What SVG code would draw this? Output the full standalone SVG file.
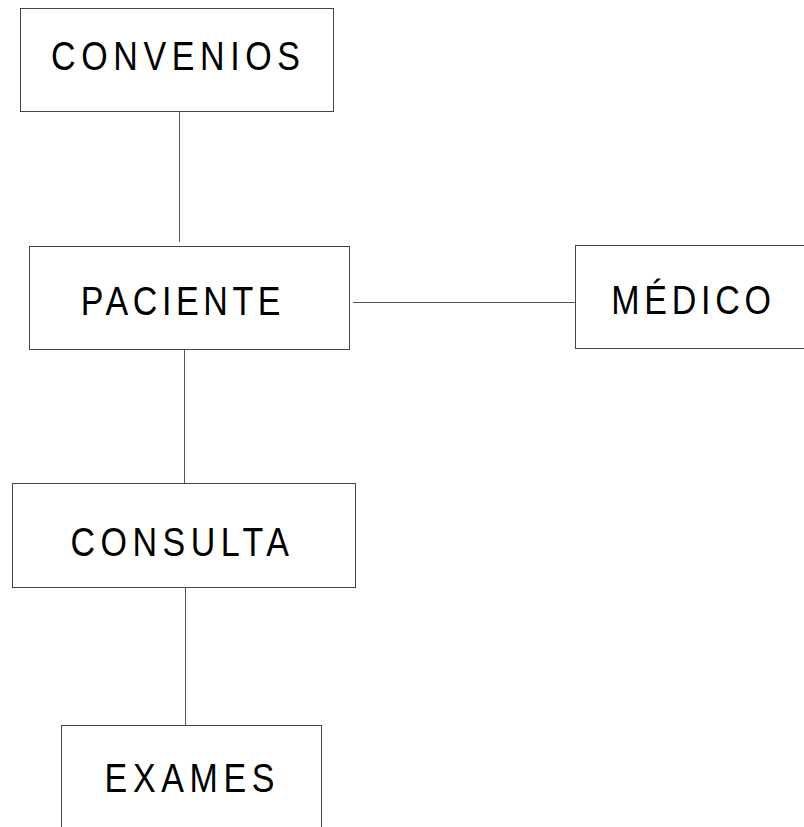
<svg xmlns="http://www.w3.org/2000/svg" width="804" height="827" viewBox="0 0 804 827">
<style>
.box{fill:#fff;stroke:#444;stroke-width:1}
.lbl{font-family:"Liberation Sans",Arial,sans-serif;font-size:40px;fill:#000}
.conn line{stroke:#555;stroke-width:1}
</style>
<rect width="804" height="827" fill="#fff"/>
<g class="conn" id="connectors">
<line x1="179.5" y1="111" x2="179.5" y2="242"/>
<line x1="184.5" y1="349" x2="184.5" y2="483"/>
<line x1="353" y1="302.5" x2="575" y2="302.5"/>
<line x1="185.5" y1="587" x2="185.5" y2="725"/>
</g>
<g id="convenios">
<rect class="box" x="20.5" y="8.5" width="313" height="103"/>
<text class="lbl" transform="scale(0.85,1)" x="60" y="70" textLength="293" lengthAdjust="spacing">CONVENIOS</text>
</g>
<g id="paciente">
<rect class="box" x="29.5" y="246.5" width="320" height="103"/>
<text class="lbl" transform="scale(0.85,1)" x="95" y="315" textLength="235" lengthAdjust="spacing">PACIENTE</text>
</g>
<g id="medico">
<rect class="box" x="575.5" y="245.5" width="240" height="103"/>
<text class="lbl" transform="scale(0.85,1)" x="719" y="314" textLength="188" lengthAdjust="spacing">MÉDICO</text>
</g>
<g id="consulta">
<rect class="box" x="12.5" y="483.5" width="343" height="104"/>
<text class="lbl" transform="scale(0.85,1)" x="83" y="556" textLength="257" lengthAdjust="spacing">CONSULTA</text>
</g>
<g id="exames">
<rect class="box" x="61.5" y="725.5" width="260" height="120"/>
<text class="lbl" transform="scale(0.85,1)" x="123" y="792" textLength="200" lengthAdjust="spacing">EXAMES</text>
</g>
</svg>
